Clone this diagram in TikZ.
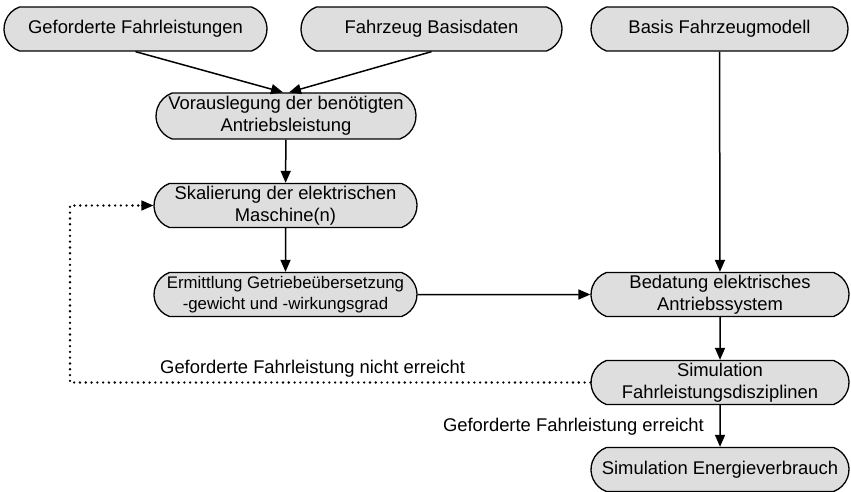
\documentclass[tikz,border=0pt]{standalone}
\usepackage{fontspec}
\setmainfont{Liberation Sans}
\usetikzlibrary{shapes.misc,arrows.meta,calc}
\definecolor{boxgray}{RGB}{222,222,222}
\begin{document}
\begin{tikzpicture}[x=1pt,y=-1pt,
  font=\fontsize{18.4}{22}\selectfont,
  box/.style={rounded rectangle, rounded rectangle arc length=140, draw, line width=1.3pt,
    fill=boxgray, minimum height=44pt, minimum width=265pt, inner sep=1pt, align=center},
  flow/.style={line width=1.5pt, -{Triangle[length=12pt,width=10pt]}},
  loop/.style={line width=2.6pt, line cap=round, dash pattern=on 0pt off 5.8pt},
  lbl/.style={inner sep=0pt}]
\useasboundingbox (0,0) rectangle (851,492);

\node[box] (req)  at (135.5,29) {Geforderte Fahrleistungen};
\node[box, minimum width=263pt] (base) at (431.5,29) {Fahrzeug Basisdaten};
\node[box, minimum width=259pt] (model) at (719.5,29) {Basis Fahrzeugmodell};

\node[box, minimum height=46pt, minimum width=262pt] (pre) at (286,116) {Vorauslegung der benötigten\\Antriebsleistung};
\node[box] (scale) at (285.5,205.5) {Skalierung der elektrischen\\Maschine(n)};
\node[box, font=\fontsize{16.8}{20.5}\selectfont] (gear) at (285.5,294.5) {Ermittlung Getriebeübersetzung\\-gewicht und -wirkungsgrad};

\node[box, minimum width=260pt] (param) at (720,294.5) {Bedatung elektrisches\\Antriebssystem};
\node[box, minimum width=260pt] (sim) at (720,382.5) {Simulation\\Fahrleistungsdisziplinen};
\node[box, minimum width=260pt] (energy) at (720,469.5) {Simulation Energieverbrauch};

\draw[flow] (req.south) -- ($(pre.north)+(-3,0)$);
\draw[flow] (base.south) -- ($(pre.north)+(3,0)$);
\draw[flow] (pre) -- (scale);
\draw[flow] (scale) -- (gear);
\draw[flow] (model) -- (param);
\draw[flow] (gear) -- (param);
\draw[flow] (param) -- (sim);
\draw[flow] (sim) -- (energy);

\coordinate (lb) at (70,382.5);
\coordinate (lt) at (70,205.5);
\draw[loop] (sim.west) -- (lb) -- (lt) -- ($(scale.west)+(-12,0)$);
\draw[flow] ($(scale.west)+(-12.5,0)$) -- (scale.west);

\node[lbl, anchor=west] (fail) at (160,369) {Geforderte Fahrleistung nicht erreicht};
\node[lbl, anchor=east] (ok) at (704,427) {Geforderte Fahrleistung erreicht};
\end{tikzpicture}
\end{document}
